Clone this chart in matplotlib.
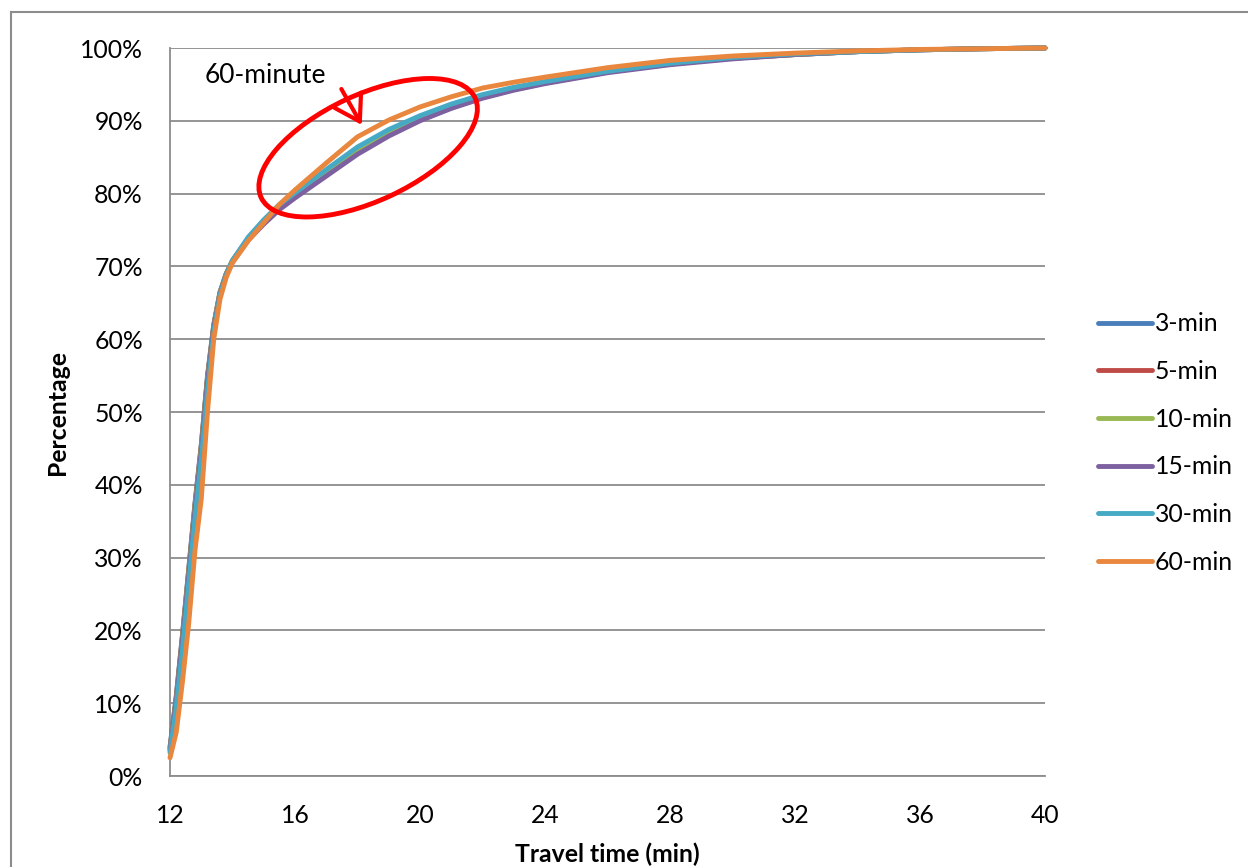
"""
Cumulative distribution of travel time for different aggregation intervals.
"""

import matplotlib.pyplot as plt
import matplotlib.patches as patches
import matplotlib.transforms as transforms
from matplotlib.lines import Line2D
from matplotlib.ticker import PercentFormatter, MultipleLocator

plt.rcParams['font.family'] = ['Lato', 'DejaVu Sans']
GRID = '#8C8C8C'

# Travel time (min) sampled along the curves
travel_time = [12, 12.2, 12.4, 12.6, 12.8, 13.0, 13.2, 13.4, 13.6, 13.8, 14.0,
               14.5, 15, 15.5, 16, 17, 18, 19, 20, 21, 22, 23, 24, 26, 28, 30,
               32, 34, 36, 38, 40]

# Cumulative share (%)
pct_3 = [4.0, 11, 19.5, 28.5, 37.5, 45.5, 55, 62, 66.5, 69, 70.8,
         73.8, 76, 78, 79.6, 82.6, 85.6, 88.1, 90.1, 91.8, 93.2, 94.3, 95.2, 96.7, 97.8, 98.6,
         99.1, 99.5, 99.75, 99.9, 100]
pct_5 = [3.8, 10.8, 19.3, 28.3, 37.3, 45.3, 54.8, 61.9, 66.4, 69, 70.8,
         73.8, 76, 78, 79.6, 82.6, 85.6, 88.1, 90.1, 91.8, 93.2, 94.3, 95.2, 96.7, 97.8, 98.6,
         99.1, 99.5, 99.75, 99.9, 100]
pct_10 = [3.6, 10.5, 19, 28, 37, 45, 54.5, 61.8, 66.4, 69, 70.8,
          73.8, 76, 78, 79.6, 82.6, 85.7, 88.2, 90.2, 91.9, 93.3, 94.3, 95.2, 96.7, 97.8, 98.6,
          99.1, 99.5, 99.75, 99.9, 100]
pct_15 = [3.5, 10.3, 18.7, 27.6, 36.6, 44.6, 54.2, 61.6, 66.2, 68.9, 70.6,
          73.6, 75.8, 77.8, 79.4, 82.4, 85.4, 87.9, 90.0, 91.7, 93.1, 94.2, 95.1, 96.6, 97.7, 98.5,
          99.1, 99.5, 99.75, 99.9, 100]
pct_30 = [3.2, 9.5, 17.5, 26.5, 35.5, 43.5, 53, 61, 66, 68.8, 70.8,
          74, 76.4, 78.5, 80.1, 83.3, 86.4, 88.8, 90.7, 92.3, 93.6, 94.6, 95.4, 96.8, 97.9, 98.7,
          99.2, 99.5, 99.75, 99.9, 100]
pct_60 = [2.5, 6, 13, 21, 31, 38, 50, 60, 65.5, 68.5, 70.5,
          73.5, 76, 78.5, 80.5, 84.2, 87.8, 90.1, 91.9, 93.3, 94.5, 95.3, 96.0, 97.3, 98.3, 98.9,
          99.3, 99.6, 99.8, 99.9, 100]

labels = ['3-min', '5-min', '10-min', '15-min', '30-min', '60-min']
series = [pct_3, pct_5, pct_10, pct_15, pct_30, pct_60]
colors = ['#4A7EBB', '#BE4B48', '#98B954', '#7D60A0', '#46AAC5', '#E8873D']

fig = plt.figure(figsize=(12.48, 8.67), dpi=100)
ax = fig.add_axes([170 / 1248, 91 / 867, 875 / 1248, 728 / 867])

for lab, vals, c in zip(labels, series, colors):
    ax.plot(travel_time, [v / 100 for v in vals], color=c, lw=3.5,
            label=lab, solid_capstyle='round', clip_on=False, zorder=3)

ax.set_xlim(12, 40)
ax.set_ylim(0, 1)
ax.xaxis.set_major_locator(MultipleLocator(4))
ax.yaxis.set_major_locator(MultipleLocator(0.1))
ax.yaxis.set_major_formatter(PercentFormatter(1.0, decimals=0))
ax.grid(axis='y', color=GRID, lw=1.3)
ax.set_axisbelow(True)
ax.tick_params(length=0, labelsize=17.8)
ax.tick_params(axis='y', pad=19.5)
ax.tick_params(axis='x', pad=20)
for s in ['top', 'right']:
    ax.spines[s].set_visible(False)
for s in ['left', 'bottom']:
    ax.spines[s].set_color(GRID)
    ax.spines[s].set_linewidth(1.3)

ax.set_xlabel('Travel time (min)', fontsize=17.8, fontweight='bold', labelpad=11)
ax.set_ylabel('Percentage', fontsize=17.8, fontweight='bold', labelpad=8)

leg = fig.legend(loc='center left', bbox_to_anchor=(1088 / 1248, 1 - 443 / 867),
                 frameon=False, fontsize=17.8, handlelength=2.2, handletextpad=0.1,
                 labelspacing=1.0, borderaxespad=0)

# highlight of the 60-minute curve
ell_pos = transforms.ScaledTranslation(18.34, 0.863, ax.transData)
ell = patches.Ellipse((0, 0), 2.36, 1.06, angle=25, fill=False, color='red',
                      lw=3.5, transform=fig.dpi_scale_trans + ell_pos, zorder=5)
ax.add_patch(ell)
ax.annotate('', xy=(18.18, 0.891), xytext=(17.44, 0.947),
            arrowprops=dict(arrowstyle='->,head_length=0.8,head_width=0.5',
                            color='red', lw=3, mutation_scale=22), zorder=6)
ax.text(13.12, 0.962, '60-minute', fontsize=19, va='center', ha='left')

# chart frame
fig.add_artist(Line2D([11 / 1248, 11 / 1248], [0, 1 - 12 / 867], color=GRID, lw=1.5))
fig.add_artist(Line2D([11 / 1248, 1], [1 - 12 / 867, 1 - 12 / 867], color=GRID, lw=1.5))

fig.savefig('out.png', dpi=100)
